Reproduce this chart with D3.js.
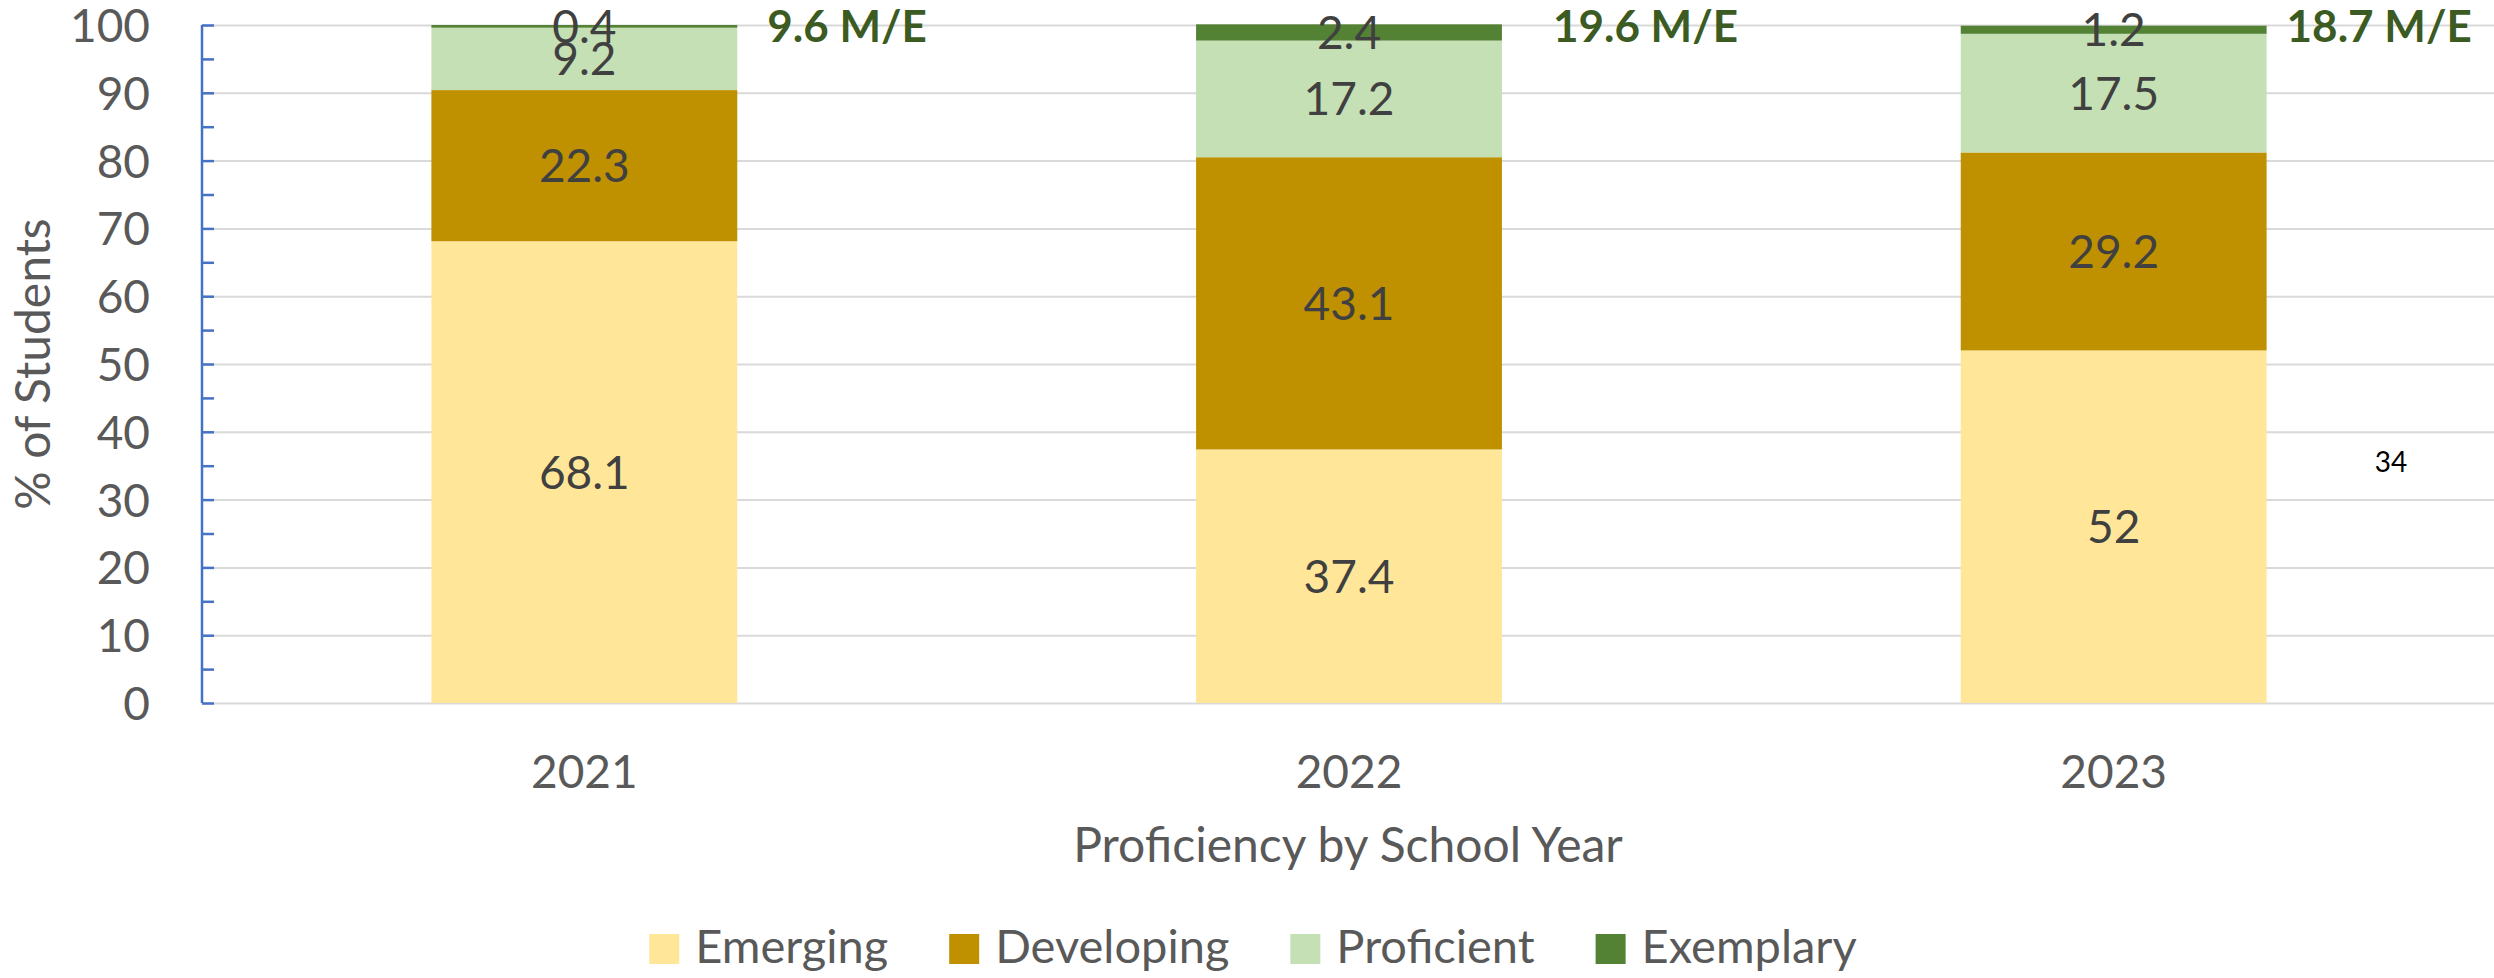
<!DOCTYPE html>
<html>
<head>
<meta charset="utf-8">
<script src="https://cdn.jsdelivr.net/npm/d3@7"></script>
<style>
  body { margin: 0; background: #ffffff; }
  text { font-family: Lato, "Liberation Sans", sans-serif; }
</style>
</head>
<body>
<div id="chart"></div>
<script>

// Chart data
var years = ["2021", "2022", "2023"];
var levels = ["Emerging", "Developing", "Proficient", "Exemplary"];
var emerging = [68.1, 37.4, 52];
var developing = [22.3, 43.1, 29.2];
var proficient = [9.2, 17.2, 17.5];
var exemplary = [0.4, 2.4, 1.2];
var meLabels = ["9.6 M/E", "19.6 M/E", "18.7 M/E"];
var yTicks = [0, 10, 20, 30, 40, 50, 60, 70, 80, 90, 100];

var colors = ["#FFE699", "#BF9000", "#C5E0B4", "#548235"];

// Setting the chart size
var svgWidth = 2494;
var svgHeight = 978;

var margin = {
    top: 25,
    right: 0,
    bottom: 275,
    left: 202
};

var height = svgHeight - margin.top - margin.bottom;
var width = svgWidth - margin.left - margin.right;

var svg = d3.select("#chart")
  .append("svg")
  .attr("width", svgWidth)
  .attr("height", svgHeight);

var chartGroup = svg.append("g")
  .attr("transform", `translate(${margin.left}, ${margin.top})`);

// build rows for the stack
var rows = years.map(function(yr, i) {
    return {
        year: yr,
        Emerging: emerging[i],
        Developing: developing[i],
        Proficient: proficient[i],
        Exemplary: exemplary[i]
    };
});

var stacked = d3.stack().keys(levels)(rows);

// scales
var xBandScale = d3.scaleBand()
    .domain(years)
    .range([0, width + 2])
    .paddingInner(0.6)
    .paddingOuter(0.3);

var yLinearScale = d3.scaleLinear()
    .domain([0, 100])
    .range([height, 0]);

// gridlines
chartGroup.append("g")
    .attr("class", "grid")
    .call(d3.axisLeft(yLinearScale).tickValues(yTicks).tickSize(-width).tickFormat(""))
    .call(g => g.select(".domain").remove())
    .call(g => g.selectAll("line").attr("stroke", "#d9d9d9").attr("stroke-width", 2));

// bars
var layerGroup = chartGroup.selectAll(".layer")
    .data(stacked)
    .enter()
    .append("g")
    .attr("class", "layer")
    .attr("fill", (d, i) => colors[i]);

layerGroup.selectAll("rect")
    .data(d => d)
    .enter()
    .append("rect")
    .attr("x", d => xBandScale(d.data.year))
    .attr("y", d => yLinearScale(d[1]))
    .attr("width", xBandScale.bandwidth())
    .attr("height", d => yLinearScale(d[0]) - yLinearScale(d[1]));

// data labels
layerGroup.selectAll(".barLabel")
    .data(d => d.map(p => ({ p: p, key: d.key })))
    .enter()
    .append("text")
    .attr("class", "barLabel")
    .attr("x", d => xBandScale(d.p.data.year) + xBandScale.bandwidth() / 2)
    .attr("y", d => (yLinearScale(d.p[0]) + yLinearScale(d.p[1])) / 2)
    .attr("dy", "0.36em")
    .attr("text-anchor", "middle")
    .attr("font-size", "46px")
    .attr("fill", "#404040")
    .text(d => d.p.data[d.key]);

// y axis (blue line with inner ticks every 5)
chartGroup.append("g")
    .call(d3.axisRight(yLinearScale).ticks(20).tickSize(12).tickFormat(""))
    .call(g => g.select(".domain").attr("stroke", "#4472C4").attr("stroke-width", 2.5).attr("d", `M0,${height}V0`))
    .call(g => g.selectAll("line").attr("stroke", "#4472C4").attr("stroke-width", 2.5));

// y tick labels
chartGroup.append("g")
    .call(d3.axisLeft(yLinearScale).tickValues(yTicks).tickSize(0).tickPadding(52))
    .call(g => g.select(".domain").remove())
    .call(g => g.selectAll("text")
        .attr("font-size", "46px")
        .attr("fill", "#595959")
        .attr("font-family", "Lato, 'Liberation Sans', sans-serif")
        .attr("dy", "0.36em"));

// x tick labels
chartGroup.append("g")
    .attr("transform", `translate(0, ${height})`)
    .call(d3.axisBottom(xBandScale).tickSize(0).tickPadding(85))
    .call(g => g.select(".domain").remove())
    .call(g => g.selectAll("text")
        .attr("font-size", "46px")
        .attr("fill", "#595959")
        .attr("font-family", "Lato, 'Liberation Sans', sans-serif")
        .attr("dy", "0"));

// M/E annotations beside each bar
var meOffset = [30, 51, 20];
chartGroup.selectAll(".meLabel")
    .data(meLabels)
    .enter()
    .append("text")
    .attr("class", "meLabel")
    .attr("x", (d, i) => xBandScale(years[i]) + xBandScale.bandwidth() + meOffset[i])
    .attr("y", yLinearScale(100) + 17)
    .attr("font-size", "44px")
    .attr("font-weight", "bold")
    .attr("fill", "#3B5B22")
    .text(d => d);

// axis titles
chartGroup.append("text")
    .attr("transform", `translate(${width / 2}, ${height + 159})`)
    .style("text-anchor", "middle")
    .attr("font-size", "48px")
    .attr("fill", "#595959")
    .text("Proficiency by School Year");

chartGroup.append("text")
    .attr("transform", "rotate(-90)")
    .attr("x", 0 - (height / 2))
    .attr("y", 50 - margin.left)
    .style("text-anchor", "middle")
    .attr("font-size", "48px")
    .attr("fill", "#595959")
    .text("% of Students");

// stray page number
svg.append("text")
    .attr("x", 2391)
    .attr("y", 472)
    .attr("text-anchor", "middle")
    .attr("font-size", "28px")
    .attr("font-family", "'Liberation Sans', Arial, sans-serif")
    .attr("fill", "#000000")
    .text("34");

// legend
var legend = svg.append("g");
var lx = 0;
levels.forEach(function(name, i) {
    var item = legend.append("g").attr("transform", `translate(${lx}, 0)`);
    item.append("rect")
        .attr("x", 0)
        .attr("y", 934)
        .attr("width", 30)
        .attr("height", 30)
        .attr("fill", colors[i]);
    var t = item.append("text")
        .attr("x", 46)
        .attr("y", 963)
        .attr("font-size", "47px")
        .attr("fill", "#595959")
        .text(name);
    lx += 46 + t.node().getComputedTextLength() + 61;
});
var legendWidth = lx - 61;
legend.attr("transform", `translate(${1253 - legendWidth / 2}, 0)`);

</script>
</body>
</html>
